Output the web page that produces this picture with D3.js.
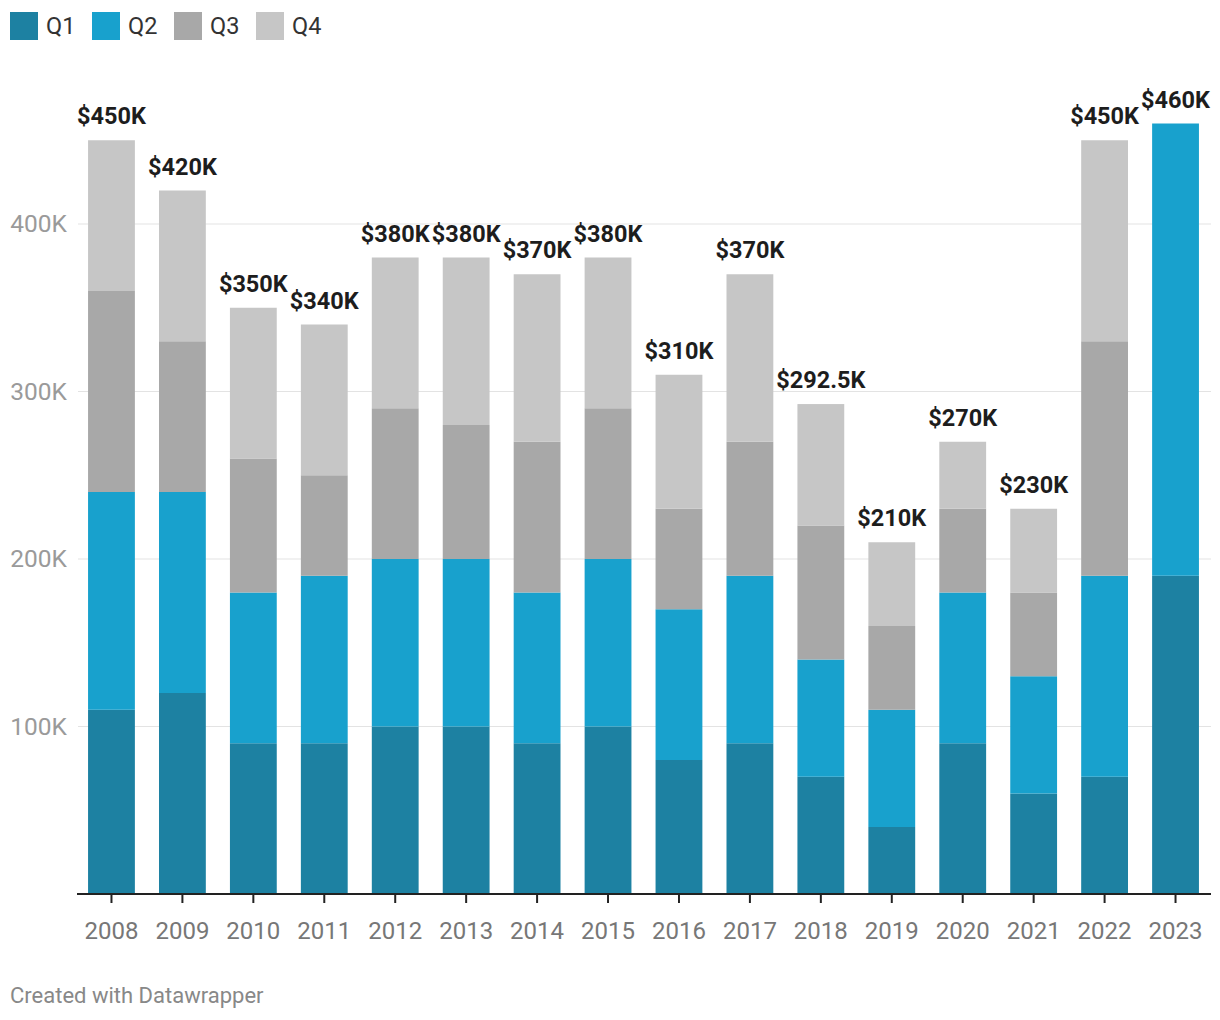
<!DOCTYPE html>
<html><head><meta charset="utf-8">
<script src="https://cdn.jsdelivr.net/npm/d3@7"></script>
<style>body{margin:0;background:#fff;font-family:Roboto,sans-serif;}</style>
</head><body>
<svg id="c" width="1220" height="1020"></svg>
<script>
const years = ["2008","2009","2010","2011","2012","2013","2014","2015","2016","2017","2018","2019","2020","2021","2022","2023"];
const q1 = [110,120,90,90,100,100,90,100,80,90,70,40,90,60,70,190];
const q2 = [130,120,90,100,100,100,90,100,90,100,70,70,90,70,120,270];
const q3 = [120,90,80,60,90,80,90,90,60,80,80,50,50,50,140,0];
const q4 = [90,90,90,90,90,100,100,90,80,100,72.5,50,40,50,120,0];
const totalLabels = ["$450K","$420K","$350K","$340K","$380K","$380K","$370K","$380K","$310K","$370K","$292.5K","$210K","$270K","$230K","$450K","$460K"];
const seriesNames = ["Q1","Q2","Q3","Q4"];
const colors = ["#1d81a2","#18a1cd","#a8a8a8","#c6c6c6"];
const yTicks = [100,200,300,400];

const svg = d3.select("#c");
const x = d3.scaleBand().domain(years).range([76,1211]).paddingInner(0.34).paddingOuter(0.17);
const y = d3.scaleLinear().domain([0,400]).range([894,224]);

// gridlines
svg.append("g").selectAll("line").data(yTicks).join("line")
  .attr("x1",78).attr("x2",1211).attr("y1",d=>y(d)).attr("y2",d=>y(d))
  .attr("stroke","#e3e3e3").attr("stroke-width",1);
svg.append("g").selectAll("text").data(yTicks).join("text")
  .attr("x",67).attr("y",d=>y(d)+8).attr("text-anchor","end")
  .attr("font-size",24.5).attr("fill","#9a9a9a").text(d=>d+"K");

const data = years.map((yr,i)=>({year:yr,Q1:q1[i],Q2:q2[i],Q3:q3[i],Q4:q4[i]}));
const stack = d3.stack().keys(seriesNames)(data);
svg.append("g").selectAll("g").data(stack).join("g").attr("fill",(d,i)=>colors[i])
  .selectAll("rect").data(d=>d).join("rect")
  .attr("x",d=>x(d.data.year)).attr("width",x.bandwidth())
  .attr("y",d=>y(d[1])).attr("height",d=>y(d[0])-y(d[1]));

// totals
svg.append("g").selectAll("text").data(data).join("text")
  .attr("x",d=>x(d.year)+x.bandwidth()/2)
  .attr("y",d=>y(d.Q1+d.Q2+d.Q3+d.Q4)-16)
  .attr("text-anchor","middle").attr("font-size",23.5).attr("font-weight","bold")
  .attr("fill","#1d1d1d").text((d,i)=>totalLabels[i]);

// x axis
const xa = svg.append("g");
xa.append("line").attr("x1",77).attr("x2",1211).attr("y1",894).attr("y2",894)
  .attr("stroke","#222").attr("stroke-width",2);
xa.selectAll("line.t").data(years).join("line").attr("class","t")
  .attr("x1",d=>x(d)+x.bandwidth()/2).attr("x2",d=>x(d)+x.bandwidth()/2)
  .attr("y1",894).attr("y2",903).attr("stroke","#222").attr("stroke-width",2);
xa.selectAll("text").data(years).join("text")
  .attr("x",d=>x(d)+x.bandwidth()/2).attr("y",939).attr("text-anchor","middle")
  .attr("font-size",24).attr("fill","#777").text(d=>d);

// legend
const lg = svg.append("g");
const lx = [10,92,174,256];
seriesNames.forEach((n,i)=>{
  lg.append("rect").attr("x",lx[i]).attr("y",12).attr("width",28).attr("height",28).attr("fill",colors[i]);
  lg.append("text").attr("x",lx[i]+36).attr("y",34).attr("font-size",23.5).attr("fill","#333").text(n);
});

svg.append("text").attr("x",10).attr("y",1003).attr("font-size",22).attr("fill","#888").text("Created with Datawrapper");
</script>
</body></html>
